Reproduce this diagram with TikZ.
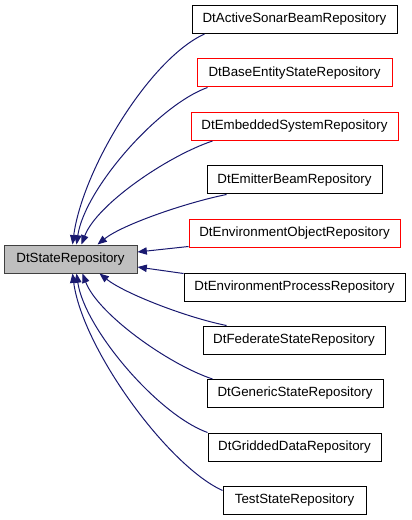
\documentclass[tikz,border=0pt]{standalone}
\usepackage{fontspec}
\setmainfont{Liberation Sans}
\usepackage{tikz}
\usetikzlibrary{calc,arrows.meta}
\tikzset{>={Triangle[length=7pt,width=5.5pt]}}
\definecolor{edgeblue}{HTML}{191970}
\definecolor{basefill}{HTML}{BFBFBF}
\definecolor{baseline}{HTML}{404040}

\begin{document}
\begin{tikzpicture}[x=0.75pt,y=-0.75pt,
  cls/.style={draw=black,line width=0.75pt,inner sep=0pt,minimum height=21pt,
    font=\fontsize{10}{12}\selectfont},
  undoc/.style={cls,draw=red},
  inh/.style={->,draw=edgeblue,line width=0.75pt}]
\useasboundingbox (0,0) rectangle (411,520);
\node[cls,fill=basefill,draw=baseline,minimum width=133*0.75pt] (state) at (70.5,259) {DtStateRepository};
\node[cls,minimum width=205*0.75pt] (sonar) at (294.5,19.5) {DtActiveSonarBeamRepository};
\node[undoc,minimum width=195*0.75pt] (base) at (294.5,73) {DtBaseEntityStateRepository};
\node[undoc,minimum width=207*0.75pt] (embedded) at (294.5,126.5) {DtEmbeddedSystemRepository};
\node[cls,minimum width=175*0.75pt] (emitter) at (294.5,180) {DtEmitterBeamRepository};
\node[undoc,minimum width=211*0.75pt] (envobj) at (294.5,233) {DtEnvironmentObjectRepository};
\node[cls,minimum width=221*0.75pt] (envproc) at (294.5,287) {DtEnvironmentProcessRepository};
\node[cls,minimum width=182*0.75pt] (federate) at (294,340) {DtFederateStateRepository};
\node[cls,minimum width=176*0.75pt] (generic) at (295,393.5) {DtGenericStateRepository};
\node[cls,minimum width=173*0.75pt] (gridded) at (294.5,447) {DtGriddedDataRepository};
\node[cls,minimum width=143*0.75pt] (test) at (294.5,500) {TestStateRepository};
\draw[inh] ($(sonar.south west)+(13,0)$) .. controls +(-55,25) and +(10,-75) .. ($(state.north west)+(69,0)$);
\draw[inh] ($(base.south west)+(11,0)$) .. controls +(-50,18) and +(8,-55) .. ($(state.north west)+(73,0)$);
\draw[inh] ($(embedded.south west)+(22,0)$) .. controls +(-45,15) and +(15,-40) .. ($(state.north west)+(78,0)$);
\draw[inh] ($(emitter.south west)+(20,0)$) .. controls +(-40,8) and +(25,-20) .. ($(state.north west)+(94,0)$);
\draw[inh] ($(envobj.south west)+(0,-1)$) -- ($(state.east)+(0,-7)$);
\draw[inh] ($(envproc.north west)+(0,1)$) -- ($(state.east)+(0,8)$);
\draw[inh] ($(federate.north west)+(24,0)$) .. controls +(-40,-8) and +(25,20) .. ($(state.south west)+(96,0)$);
\draw[inh] ($(generic.north west)+(6,0)$) .. controls +(-45,-15) and +(15,40) .. ($(state.south west)+(79,0)$);
\draw[inh] (gridded.north west) .. controls +(-50,-18) and +(8,55) .. ($(state.south west)+(73,0)$);
\draw[inh] ($(test.north west)+(0,5)$) .. controls +(-55,-25) and +(10,75) .. ($(state.south west)+(69,0)$);
\end{tikzpicture}
\end{document}
